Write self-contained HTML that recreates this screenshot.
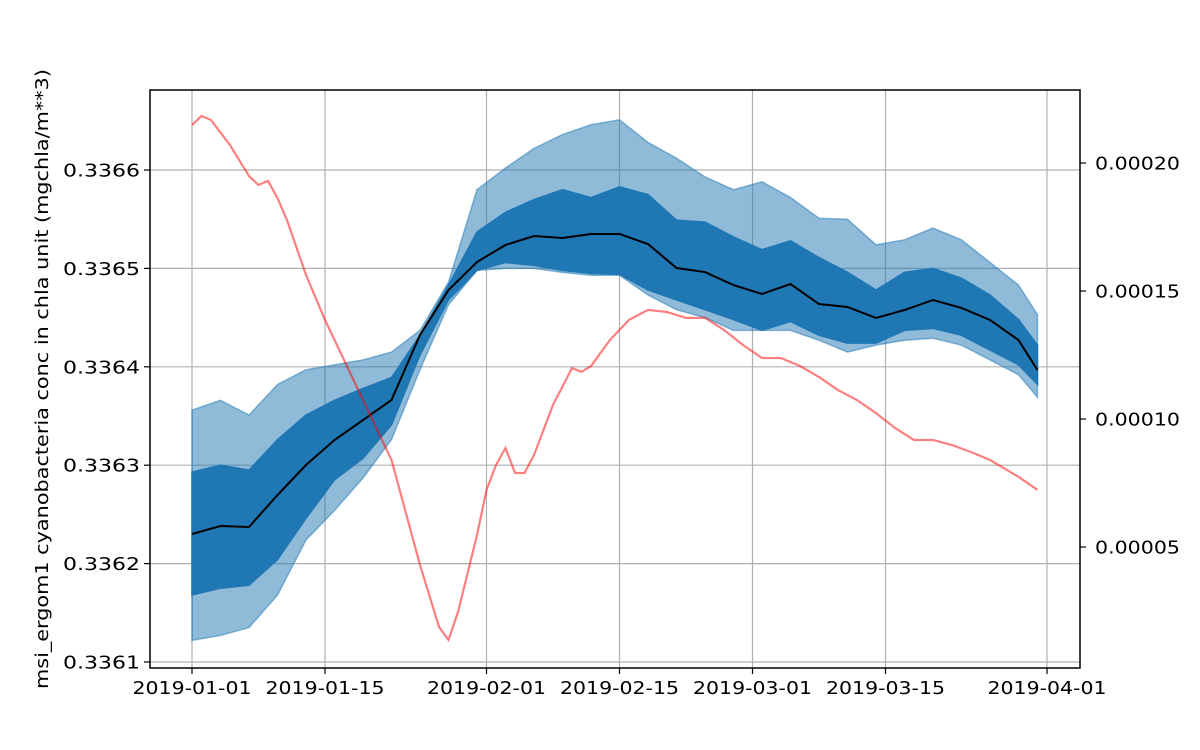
<!DOCTYPE html>
<html><head><meta charset="utf-8"><style>
html,body{margin:0;padding:0;background:#fff;}
svg{display:block;font-family:"DejaVu Sans","Liberation Sans",sans-serif;}
</style></head><body>
<svg id="chart" width="1200" height="750" viewBox="0 0 1200 750" xmlns="http://www.w3.org/2000/svg"></svg>
<script>
const days=[0,3,6,9,12,15,18,21,24,27,30,33,36,39,42,45,48,51,54,57,60,63,66,69,72,75,78,81,84,87,89];
const meanVals=[0.3362301,0.3362382,0.3362372,0.3362697,0.3363002,0.3363256,0.3363459,0.3363663,0.3364323,0.336478,0.3365065,0.3365238,0.3365329,0.3365309,0.336535,0.336535,0.3365248,0.3365004,0.3364963,0.3364831,0.336474,0.3364841,0.3364638,0.3364608,0.3364496,0.3364577,0.3364679,0.3364598,0.3364476,0.3364272,0.3363967];
const innerHi=[0.336293,0.336300,0.336295,0.336326,0.336351,0.336366,0.336378,0.336389,0.336432,0.336483,0.336537,0.336557,0.336570,0.336580,0.336572,0.336583,0.336575,0.336549,0.336547,0.336532,0.336519,0.336528,0.336511,0.336496,0.336478,0.336496,0.336500,0.336490,0.336473,0.336448,0.336422];
const innerLo=[0.336168,0.336175,0.336178,0.336204,0.336246,0.336285,0.336307,0.336341,0.336412,0.336468,0.336498,0.336506,0.336503,0.336498,0.336495,0.336494,0.336478,0.336468,0.336458,0.336448,0.336437,0.336446,0.336432,0.336424,0.336424,0.336437,0.336439,0.336432,0.336417,0.336402,0.336382];
const outerHi=[0.336356,0.336366,0.336351,0.336382,0.336397,0.336402,0.336407,0.336415,0.336437,0.336486,0.336580,0.336602,0.336622,0.336636,0.336646,0.336651,0.336628,0.336612,0.336593,0.336580,0.336588,0.336572,0.336551,0.336550,0.336524,0.336529,0.336541,0.336529,0.336506,0.336483,0.336453];
const outerLo=[0.336122,0.336127,0.336135,0.336168,0.336224,0.336254,0.336287,0.336326,0.336397,0.336463,0.336498,0.336500,0.336500,0.336496,0.336493,0.336493,0.336473,0.336458,0.336450,0.336437,0.336437,0.336437,0.336427,0.336415,0.336422,0.336427,0.336429,0.336422,0.336407,0.336392,0.336369];
const redDays=[0,1,2,4,6,7,8,9,10,12,14,16,18,21,24,26,27,28,30,31,32,33,34,35,36,38,40,41,42,44,46,48,50,52,54,56,58,60,62,64,66,68,70,72,74,76,78,80,82,84,87,89];
const redVals=[0.0002148,0.0002184,0.0002168,0.000207,0.0001949,0.0001914,0.000193,0.0001863,0.0001777,0.0001563,0.0001387,0.0001231,0.0001074,0.000084,0.000043,0.0000188,0.0000137,0.0000246,0.0000547,0.0000723,0.000082,0.0000887,0.0000789,0.0000789,0.0000859,0.0001055,0.0001199,0.0001184,0.0001207,0.0001309,0.0001387,0.0001426,0.0001418,0.0001395,0.0001395,0.0001348,0.0001289,0.0001238,0.0001238,0.0001207,0.0001164,0.0001113,0.0001074,0.0001023,0.0000965,0.0000918,0.0000918,0.0000898,0.0000871,0.000084,0.0000774,0.0000723];
const xTickDays=[0,14,31,45,59,73,90];
const xTickLabels=["2019-01-01","2019-01-15","2019-02-01","2019-02-15","2019-03-01","2019-03-15","2019-04-01"];
const yTicks=[0.3361,0.3362,0.3363,0.3364,0.3365,0.3366];
const yTickLabels=["0.3361","0.3362","0.3363","0.3364","0.3365","0.3366"];
const y2Ticks=[0.00005,0.0001,0.00015,0.0002];
const y2TickLabels=["0.00005","0.00010","0.00015","0.00020"];

const X0=150,X1=1080,Y0=90,Y1=668;
const xs=d=>192+d*9.5;
const ys=v=>170+(0.3366-v)*984000;
const ys2=v=>163+(0.0002-v)/0.00005*128;
const svg=document.getElementById('chart');
const NS='http://www.w3.org/2000/svg';
function mk(tag,attrs,parent){const e=document.createElementNS(NS,tag);for(const k in attrs)e.setAttribute(k,attrs[k]);(parent||svg).appendChild(e);return e;}

xTickDays.forEach((d,i)=>{
  const g=mk('line',{x1:xs(d),x2:xs(d),y1:Y0,y2:Y1,stroke:'#b0b0b0','stroke-width':1.2});
  
  
});
yTicks.forEach(v=>{
  const g=mk('line',{x1:X0,x2:X1,y1:ys(v),y2:ys(v),stroke:'#b0b0b0','stroke-width':1.2});
  
  
});
function band(hi,lo,fill,op,name){
  let d='M'+days.map((t,i)=>xs(t)+','+ys(hi[i])).join('L');
  for(let i=days.length-1;i>=0;i--)d+='L'+xs(days[i])+','+ys(lo[i]);
  d+='Z';
  const p=mk('path',{d:d,fill:fill,'fill-opacity':op,stroke:fill,'stroke-opacity':op,'stroke-width':1.5});
  
  
}
band(outerHi,outerLo,'#1f77b4',0.5,'outer-range-band');
band(innerHi,innerLo,'#1f77b4',1,'inner-range-band');
const ml=mk('polyline',{points:days.map((t,i)=>xs(t)+','+ys(meanVals[i])).join(' '),fill:'none',stroke:'#000','stroke-width':2});


const rl=mk('polyline',{points:redDays.map((t,i)=>xs(t)+','+ys2(redVals[i])).join(' '),fill:'none',stroke:'#ff0000','stroke-opacity':0.5,'stroke-width':2.2});


const fr=mk('rect',{x:X0,y:Y0,width:X1-X0,height:Y1-Y0,fill:'none',stroke:'#000','stroke-width':1.5});


const FS=17.5;
xTickDays.forEach((d,i)=>{
  mk('line',{x1:xs(d),x2:xs(d),y1:Y1,y2:Y1+6,stroke:'#000','stroke-width':1.2});
  const t=mk('text',{x:xs(d)-59.5,y:Y1+26,'font-size':FS,fill:'#000',textLength:119,lengthAdjust:'spacingAndGlyphs'});
  t.textContent=xTickLabels[i];
  
  
});
yTicks.forEach((v,i)=>{
  mk('line',{x1:X0-6,x2:X0,y1:ys(v),y2:ys(v),stroke:'#000','stroke-width':1.2});
  const t=mk('text',{x:63,y:ys(v)+6.5,'font-size':FS,fill:'#000',textLength:77,lengthAdjust:'spacingAndGlyphs'});
  t.textContent=yTickLabels[i];
  
  
});
y2Ticks.forEach((v,i)=>{
  mk('line',{x1:X1,x2:X1+6,y1:ys2(v),y2:ys2(v),stroke:'#000','stroke-width':1.2});
  const t=mk('text',{x:1095,y:ys2(v)+6.5,'font-size':FS,fill:'#000',textLength:85,lengthAdjust:'spacingAndGlyphs'});
  t.textContent=y2TickLabels[i];
  
  
});
const yl=mk('text',{x:-310,y:0,transform:'translate(48,379) rotate(-90)','font-size':FS,fill:'#000',textLength:620,lengthAdjust:'spacingAndGlyphs'});
yl.textContent='msi_ergom1 cyanobacteria conc in chla unit (mgchla/m**3)';


</script>
</body></html>
